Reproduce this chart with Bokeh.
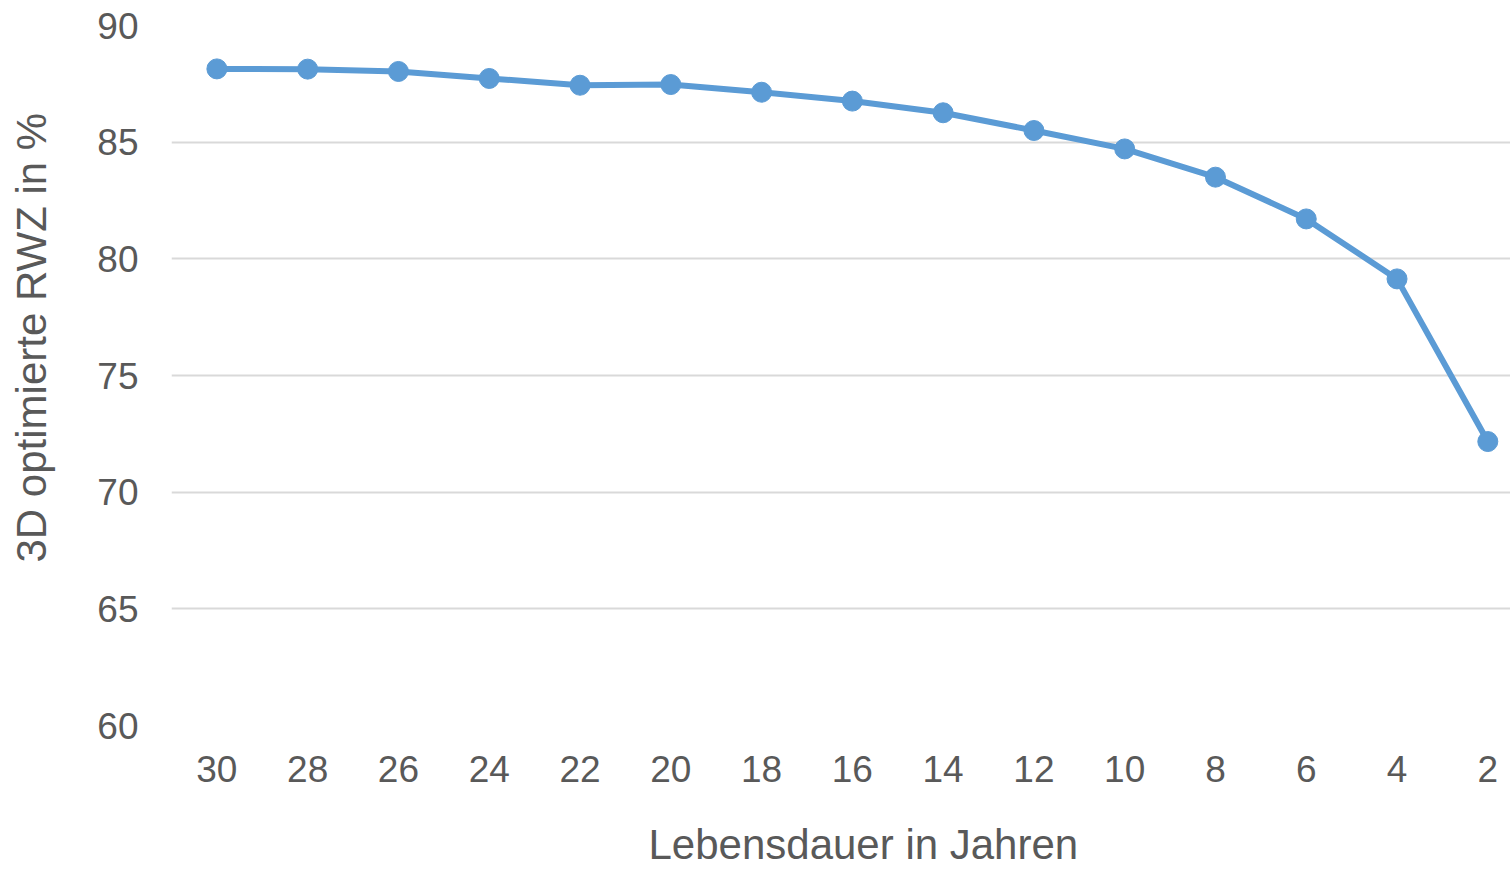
from bokeh.plotting import figure
from bokeh.models import Range1d, FixedTicker, Title
from bokeh.embed import file_html
from bokeh.resources import INLINE

years = ["30", "28", "26", "24", "22", "20", "18", "16", "14", "12", "10", "8", "6", "4", "2"]
rwz = [88.14, 88.13, 88.03, 87.73, 87.44, 87.47, 87.14, 86.76, 86.26, 85.50, 84.71, 83.50, 81.71, 79.14, 72.17]
y_ticks = [60, 65, 70, 75, 80, 85, 90]
x_title = "Lebensdauer in Jahren"
y_title = "3D optimierte RWZ in %"

FONT = "Liberation Sans"
GREY = "#595959"
BLUE = "#5B9BD5"

pos = list(range(len(years)))

p = figure(width=1510, height=867, output_backend="svg", toolbar_location=None,
           x_range=Range1d(-0.5, 14.25), y_range=Range1d(60, 90),
           min_border_left=171, min_border_right=0, min_border_top=25, min_border_bottom=142)
p.outline_line_color = None
p.background_fill_color = "white"
p.border_fill_color = "white"

p.xaxis.ticker = FixedTicker(ticks=pos)
p.xaxis.major_label_overrides = {i: lab for i, lab in zip(pos, years)}
p.yaxis.ticker = FixedTicker(ticks=y_ticks)
for ax in (p.xaxis, p.yaxis):
    ax.axis_line_color = None
    ax.major_tick_line_color = None
    ax.minor_tick_line_color = None
    ax.major_label_text_font = FONT
    ax.major_label_text_font_size = "37px"
    ax.major_label_text_color = GREY
p.xaxis.major_label_standoff = 24
p.yaxis.major_label_standoff = 27

p.xgrid.grid_line_color = None
p.ygrid.ticker = FixedTicker(ticks=y_ticks)
p.ygrid.grid_line_color = "#d9d9d9"
p.ygrid.grid_line_width = 2

p.line(pos, rwz, line_color=BLUE, line_width=6)
p.scatter(pos, rwz, size=20, fill_color=BLUE, line_color=BLUE)

# spacers between axes and axis titles
p.add_layout(Title(text=" ", text_font_size="1px", standoff=31), "below")
p.add_layout(Title(text=" ", text_font_size="1px", standoff=37), "left")

p.add_layout(Title(text=x_title, align="left", offset=648 - 171, standoff=0,
                   text_font=FONT, text_font_size="42px", text_font_style="normal",
                   text_color=GREY), "below")
p.add_layout(Title(text=y_title, align="left", offset=725 - 562, standoff=0,
                   text_font=FONT, text_font_size="42px", text_font_style="normal",
                   text_color=GREY), "left")

open("out.html", "w").write(file_html(p, INLINE))
